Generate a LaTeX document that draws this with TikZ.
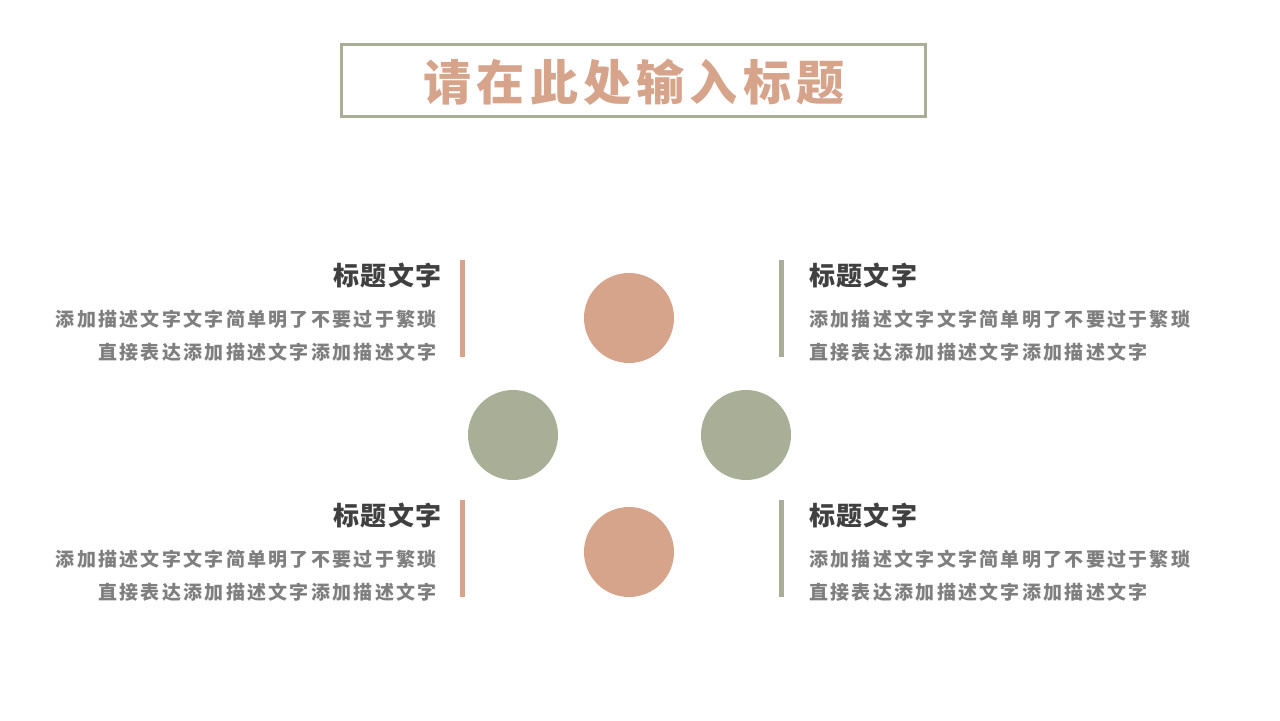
\documentclass[tikz,border=0pt]{standalone}
\usepackage{fontspec}
\newfontfamily\titlefont[LetterSpace=11]{Noto Sans CJK SC}
\newfontfamily\headfont[LetterSpace=5]{Noto Sans CJK SC}
\newfontfamily\bodyfont[LetterSpace=12]{Noto Sans CJK SC}
\definecolor{tansalmon}{HTML}{D6A48A}
\definecolor{sagegreen}{HTML}{A9AE96}
\definecolor{headgray}{HTML}{404040}
\definecolor{bodygray}{HTML}{7F7F7F}

\tikzset{
  dot/.style={circle, inner sep=0pt, minimum size=45pt},
  headtext/.style={font=\headfont\bfseries\fontsize{13pt}{15pt}\selectfont, text=headgray, inner sep=0pt},
  bodytext/.style={font=\bodyfont\bfseries\fontsize{9.5pt}{11pt}\selectfont, text=bodygray, inner sep=0pt}
}

\begin{document}
\begin{tikzpicture}[x=0.5pt, y=-0.5pt]
  \useasboundingbox[fill=white] (0,0) rectangle (1280,720);

  % Title frame
  \draw[sagegreen, line width=1.5pt] (341,44) rectangle (925,116);
  \node[font=\titlefont\bfseries\fontsize{24pt}{28pt}\selectfont, text=tansalmon, inner sep=0pt] (title) at (634,82) {请在此处输入标题};

  % Circles
  \node[dot, fill=tansalmon] (ctop) at (629,318) {};
  \node[dot, fill=sagegreen] (cleft) at (513,435) {};
  \node[dot, fill=sagegreen] (cright) at (746,435) {};
  \node[dot, fill=tansalmon] (cbottom) at (629,552) {};

  % Bars
  \fill[tansalmon] (460,260) rectangle (465,357);
  \fill[sagegreen] (779,260) rectangle (784,357);
  \fill[tansalmon] (460,500) rectangle (465,597);
  \fill[sagegreen] (779,500) rectangle (784,597);

  % Top left
  \node[headtext, anchor=east] (tlhead) at (442,275) {标题文字};
  \node[bodytext, anchor=east] (tlone) at (437,319) {添加描述文字文字简单明了不要过于繁琐};
  \node[bodytext, anchor=east] (tltwo) at (437,352) {直接表达添加描述文字添加描述文字};

  % Top right
  \node[headtext, anchor=west] (trhead) at (809,275) {标题文字};
  \node[bodytext, anchor=west] (trone) at (809,319) {添加描述文字文字简单明了不要过于繁琐};
  \node[bodytext, anchor=west] (trtwo) at (809,352) {直接表达添加描述文字添加描述文字};

  % Bottom left
  \node[headtext, anchor=east] (blhead) at (442,515) {标题文字};
  \node[bodytext, anchor=east] (blone) at (437,559) {添加描述文字文字简单明了不要过于繁琐};
  \node[bodytext, anchor=east] (bltwo) at (437,592) {直接表达添加描述文字添加描述文字};

  % Bottom right
  \node[headtext, anchor=west] (brhead) at (809,515) {标题文字};
  \node[bodytext, anchor=west] (brone) at (809,559) {添加描述文字文字简单明了不要过于繁琐};
  \node[bodytext, anchor=west] (brtwo) at (809,592) {直接表达添加描述文字添加描述文字};
\end{tikzpicture}
\end{document}
